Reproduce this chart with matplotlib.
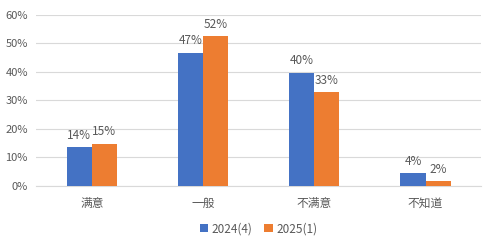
import numpy as np
import matplotlib
matplotlib.use('Agg')
import matplotlib.pyplot as plt
from matplotlib.ticker import FuncFormatter

plt.rcParams['font.family'] = ['Noto Sans CJK SC', 'DejaVu Sans']

categories = ['满意', '一般', '不满意', '不知道']
series_names = ['2024(4)', '2025(1)']
vals_2024 = [13.6, 46.6, 39.7, 4.4]
vals_2025 = [14.7, 52.4, 32.8, 1.7]

BLUE = '#4472C4'
ORANGE = '#ED7D31'
GRAY = '#595959'

fig = plt.figure(figsize=(4.96, 2.46), dpi=100)
ax = fig.add_axes([0.073, 0.244, 0.897, 0.697])

x = np.arange(len(categories))
w = 0.225
b1 = ax.bar(x - w / 2, vals_2024, w, color=BLUE, label=series_names[0], zorder=3)
b2 = ax.bar(x + w / 2, vals_2025, w, color=ORANGE, label=series_names[1], zorder=3)
for bars in (b1, b2):
    for r in bars:
        v = r.get_height()
        ax.annotate(f'{v:.0f}%', (r.get_x() + r.get_width() / 2, v), xytext=(0, 4),
                    textcoords='offset points', ha='center', va='bottom',
                    fontsize=8.5, color=GRAY)

ax.set_xlim(-0.5, len(categories) - 0.5)
ax.set_ylim(0, 60)
ax.set_yticks(range(0, 61, 10))
ax.yaxis.set_major_formatter(FuncFormatter(lambda v, p: f'{v:.0f}%'))
ax.set_xticks(x)
ax.set_xticklabels(categories)
ax.tick_params(axis='y', length=0, labelsize=8, colors=GRAY, pad=6)
ax.tick_params(axis='x', length=0, labelsize=8.5, colors=GRAY, pad=8)
ax.grid(axis='y', color='#D9D9D9', lw=0.8, zorder=0)
for s in ['top', 'right', 'left']:
    ax.spines[s].set_visible(False)
ax.spines['bottom'].set_color('#D9D9D9')

ax.legend(loc='upper center', bbox_to_anchor=(0.5, -0.15), ncol=2, frameon=False,
          fontsize=8.5, labelcolor=GRAY, handlelength=0.7, handleheight=0.7,
          handletextpad=0.3, columnspacing=1.0)

fig.savefig('out.png', dpi=100)
